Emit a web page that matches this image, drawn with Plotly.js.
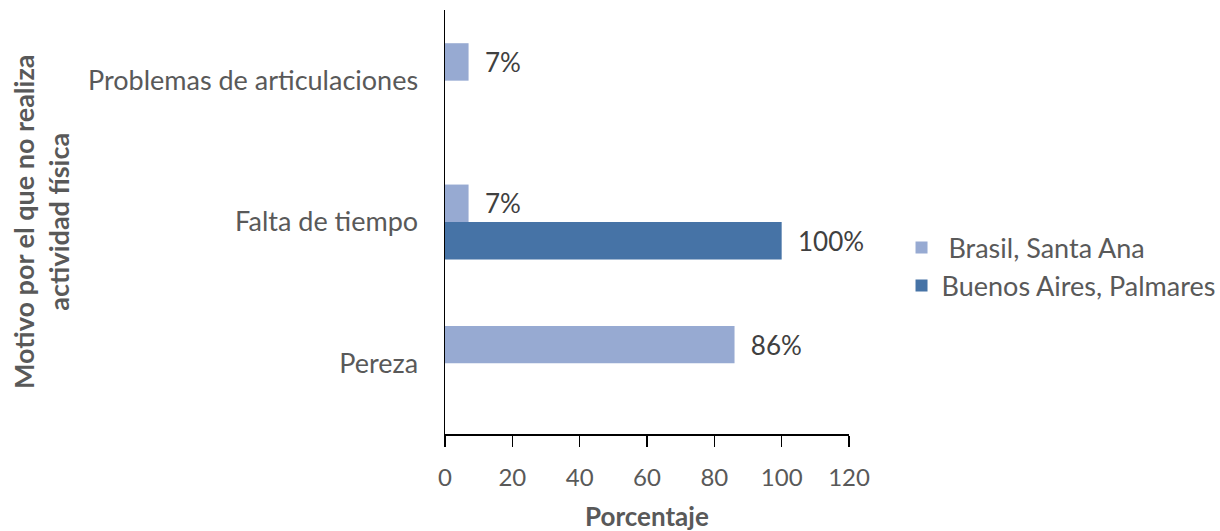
<!DOCTYPE html>
<html><head><meta charset="utf-8">
<script src="https://cdn.plot.ly/plotly-3.0.1.min.js"></script>
<style>html,body{margin:0;padding:0;background:#fff}#c{width:1220px;height:531px}</style>
</head><body><div id="c"></div>
<script>
const categories = ["Pereza", "Falta de tiempo", "Problemas de articulaciones"];
const brasilSantaAna = [86, 7, 7];
const buenosAiresPalmares = [0, 100, 0];
const seriesNames = [" Brasil, Santa Ana", "Buenos Aires, Palmares"];
const xTicks = [0, 20, 40, 60, 80, 100, 120];
const yTitle = "<b>Motivo por el que no realiza<br>actividad física</b>";
const xTitle = "<b>Porcentaje</b>";

const FONT = "Lato, Open Sans, sans-serif";
const lab = v => v.map(x => x > 0 ? "  " + x + "%" : "");

const traces = [
  {type:"bar", orientation:"h", name:seriesNames[1], y:categories, x:buenosAiresPalmares,
   marker:{color:"#4673A6"}, text:lab(buenosAiresPalmares), textposition:"outside", constraintext:"none",
   textfont:{size:26,color:"#404040",family:FONT}, cliponaxis:false, hoverinfo:"none"},
  {type:"bar", orientation:"h", name:seriesNames[0], y:categories, x:brasilSantaAna,
   marker:{color:"#97AAD2"}, text:lab(brasilSantaAna), textposition:"outside", constraintext:"none",
   textfont:{size:26,color:"#404040",family:FONT}, cliponaxis:false, hoverinfo:"none"}
];

const layout = {
  width:1220, height:531,
  margin:{l:445, r:371, t:10, b:97, autoexpand:false},
  paper_bgcolor:"#fff", plot_bgcolor:"#fff",
  font:{family:FONT, color:"#595959", size:26},
  barmode:"group", bargap:0.47, bargroupgap:0,
  showlegend:true,
  legend:{x:1.13, y:0.394, xanchor:"left", yanchor:"middle", traceorder:"reversed",
          font:{size:27,color:"#595959",family:FONT}, itemsizing:"constant", tracegroupgap:6},
  xaxis:{range:[0,120], tickvals:xTicks, ticktext:xTicks.map(String), showgrid:false, zeroline:false,
         showline:true, linecolor:"#000", linewidth:1.5, ticks:"outside", ticklen:11, tickwidth:1.5,
         tickcolor:"#000", tickfont:{size:24,color:"#595959"}, ticklabelstandoff:11, automargin:false},
  yaxis:{showgrid:false, zeroline:false, showline:true, linecolor:"#000", linewidth:1.5,
         ticks:"", tickfont:{size:27,color:"#595959"}, ticklabelstandoff:20, automargin:false},
  annotations:[
    {text:yTitle, xref:"paper", yref:"paper", x:-1.0, y:0.5, xanchor:"center", yanchor:"middle",
     textangle:-90, showarrow:false, font:{size:27,color:"#595959",family:FONT}},
    {text:xTitle, xref:"paper", yref:"paper", x:0.5, y:-0.193, xanchor:"center", yanchor:"middle",
     showarrow:false, font:{size:26,color:"#595959",family:FONT}}
  ]
};

Plotly.newPlot("c", traces, layout, {staticPlot:true});
</script></body></html>
